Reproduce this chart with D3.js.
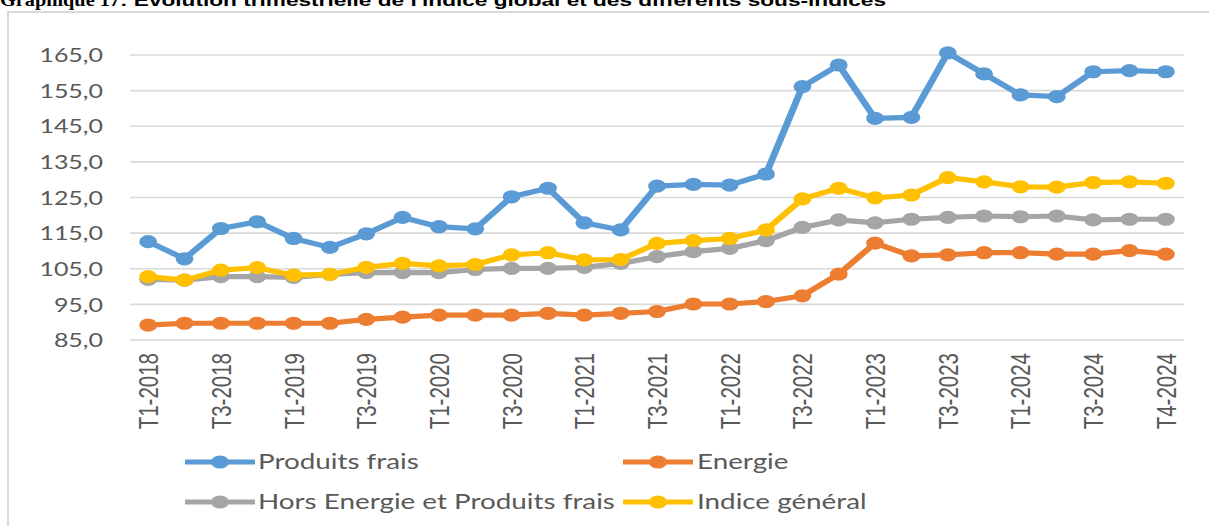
<!DOCTYPE html>
<html><head><meta charset="utf-8">
<script src="https://cdn.jsdelivr.net/npm/d3@7"></script>
<style>
html,body{margin:0;padding:0;background:#fff;}
svg{display:block;}
</style></head>
<body>
<svg id="chart" width="1209" height="526"></svg>
<script>
// ---- data ----
const quarterLabels = ["T1-2018","T2-2018","T3-2018","T4-2018","T1-2019","T2-2019","T3-2019","T4-2019",
  "T1-2020","T2-2020","T3-2020","T4-2020","T1-2021","T2-2021","T3-2021","T4-2021",
  "T1-2022","T2-2022","T3-2022","T4-2022","T1-2023","T2-2023","T3-2023","T4-2023",
  "T1-2024","T2-2024","T3-2024","T4-2024","T4-2024"];
const produitsFrais = [112.6,107.8,116.3,118.2,113.5,111.0,114.8,119.4,116.8,116.2,125.2,127.6,117.9,115.9,128.2,128.7,128.5,131.6,156.1,162.2,147.2,147.5,165.6,159.7,153.8,153.3,160.3,160.6,160.3];
const energie = [89.2,89.7,89.7,89.7,89.7,89.7,90.8,91.4,92.0,92.0,92.0,92.5,92.0,92.5,93.0,95.1,95.1,95.8,97.4,103.5,112.2,108.6,108.9,109.5,109.5,109.1,109.1,110.1,109.1];
const horsEnergie = [102.0,101.8,102.8,102.8,102.6,103.4,103.9,103.9,103.9,104.8,105.1,105.1,105.4,106.5,108.4,109.8,110.7,112.9,116.6,118.7,117.9,118.9,119.4,119.8,119.6,119.8,118.7,118.9,118.9];
const indiceGeneral = [102.8,101.8,104.6,105.3,103.2,103.4,105.4,106.5,105.8,106.2,108.9,109.5,107.5,107.6,112.1,112.9,113.5,115.9,124.6,127.6,124.9,125.7,130.6,129.4,128.0,127.9,129.2,129.4,129.0];
const yTicks = [85,95,105,115,125,135,145,155,165];
const seriesNames = ["Produits frais","Energie","Hors Energie et Produits frais","Indice général"];
const seriesColors = ["#5b9bd5","#ed7d31","#a5a5a5","#ffc000"];
const titleStart = "Graphique 17";
const titleRest = ": Evolution trimestrielle de l'indice global et des différents sous-indices";

const series = [produitsFrais, energie, horsEnergie, indiceGeneral];

// ---- layout ----
const sx = 1.35; // horizontal stretch of the source picture
const svg = d3.select("#chart");

// frame
svg.append("rect").attr("x",8).attr("y",12).attr("width",1220).attr("height",540)
  .attr("fill","#fff").attr("stroke","#d9d9d9").attr("stroke-width",2);

// title
const title = svg.append("text").attr("x",0).attr("y",6).attr("fill","#000");
title.append("tspan").attr("font-family","Liberation Serif").attr("font-weight","bold")
  .attr("font-size",18).attr("textLength",120).attr("lengthAdjust","spacingAndGlyphs").text(titleStart);
title.append("tspan").attr("font-family","Liberation Sans").attr("font-weight","bold")
  .attr("font-size",16).attr("textLength",766).attr("lengthAdjust","spacingAndGlyphs").text(titleRest);

const g = svg.append("g").attr("transform",`scale(${sx},1)`);

const x = d3.scaleBand().domain(d3.range(quarterLabels.length)).range([130/sx,1184/sx]);
const y = d3.scaleLinear().domain([85,165]).range([340,55]);
const cx = i => x(i) + x.bandwidth()/2;

// gridlines
g.append("g").selectAll("line").data(yTicks).join("line")
  .attr("x1",130/sx).attr("x2",1184/sx)
  .attr("y1",d=>y(d)).attr("y2",d=>y(d))
  .attr("stroke","#d9d9d9").attr("stroke-width",1.6);

// y axis
const yAxis = g.append("g").attr("transform",`translate(${103/sx},0)`)
  .call(d3.axisLeft(y).tickValues(yTicks).tickSize(0).tickPadding(0)
    .tickFormat(d=>d3.format(".1f")(d).replace(".",",")));
yAxis.select(".domain").remove();
yAxis.selectAll("text").attr("font-family","Lato").attr("font-size",18.5).attr("fill","#595959")
  .attr("dy","0.36em");

// x axis
const xAxis = g.append("g").attr("transform",`translate(0,340)`)
  .call(d3.axisBottom(x).tickValues(d3.range(0,quarterLabels.length,2)).tickSize(0)
    .tickFormat(i=>quarterLabels[i]));
xAxis.select(".domain").remove();
xAxis.selectAll("text").attr("font-family","Liberation Sans").attr("font-size",20.5).attr("fill","#595959")
  .attr("transform","rotate(-90)").attr("text-anchor","end")
  .attr("x",-13).attr("y",0).attr("dy","0.36em");

// lines and markers
const line = d3.line().x((d,i)=>cx(i)).y(d=>y(d));
series.forEach((s,k)=>{
  const sg = g.append("g");
  sg.append("path").datum(s).attr("d",line).attr("fill","none")
    .attr("stroke",seriesColors[k]).attr("stroke-width",5.2).attr("stroke-linejoin","round");
  sg.selectAll("circle").data(s).join("circle")
    .attr("cx",(d,i)=>cx(i)).attr("cy",d=>y(d)).attr("r",6.6).attr("fill",seriesColors[k]);
});

// legend
const legendPos = [
  {lx:185, tx:258, y:462},
  {lx:623, tx:697, y:462},
  {lx:185, tx:258, y:502},
  {lx:623, tx:697, y:502}
];
seriesNames.forEach((name,k)=>{
  const p = legendPos[k];
  const lg = g.append("g");
  lg.append("line").attr("x1",p.lx/sx).attr("x2",(p.lx+70)/sx).attr("y1",p.y).attr("y2",p.y)
    .attr("stroke",seriesColors[k]).attr("stroke-width",5.2);
  lg.append("circle").attr("cx",(p.lx+35)/sx).attr("cy",p.y).attr("r",6.6).attr("fill",seriesColors[k]);
  lg.append("text").attr("x",p.tx/sx).attr("y",p.y).attr("dy","0.35em")
    .attr("font-family","Lato").attr("font-size",20.6).attr("fill","#595959").text(name);
});
</script>
</body></html>
